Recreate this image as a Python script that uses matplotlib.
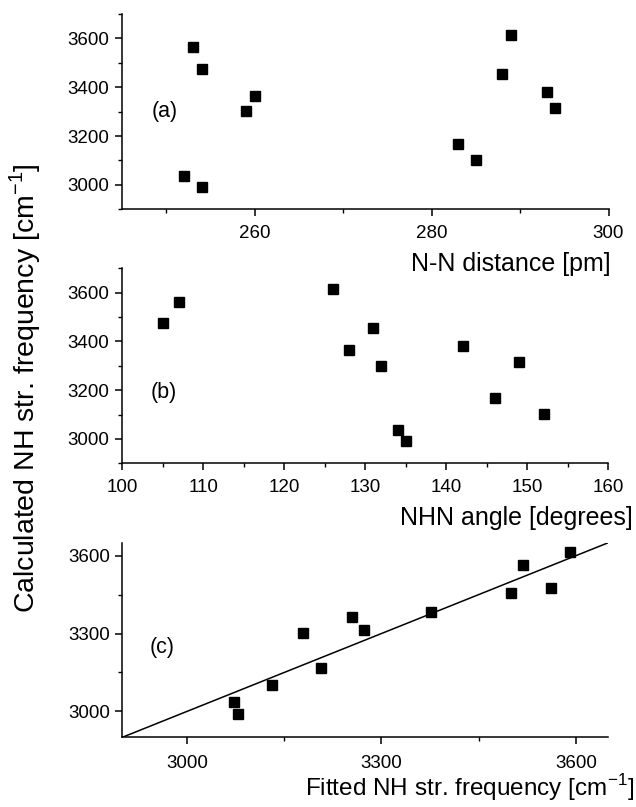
import matplotlib
matplotlib.use("Agg")
import matplotlib.pyplot as plt
from matplotlib.ticker import MultipleLocator

plt.rcParams['font.family'] = ['Liberation Sans', 'DejaVu Sans']

# Data (12 structures)
nn_distance = [252, 253, 254, 254, 259, 260, 283, 285, 288, 289, 293, 294]
calc_freq   = [3037, 3563, 3475, 2990, 3301, 3365, 3169, 3102, 3455, 3616, 3382, 3314]
nhn_angle   = [134, 107, 105, 135, 132, 128, 146, 152, 131, 126, 142, 149]
fitted_freq = [3073, 3518, 3561, 3079, 3179, 3254, 3206, 3131, 3500, 3591, 3377, 3273]
line_x = [2900, 3650]
line_y = [2900, 3650]

W, H = 636, 807
fig = plt.figure(figsize=(W / 100, H / 100), dpi=100)

def make_axes(left, right, top, bottom):
    return fig.add_axes([left / W, 1 - bottom / H, (right - left) / W, (bottom - top) / H])

axA = make_axes(122, 608.5, 14, 209.3)
axB = make_axes(122, 608.5, 268.3, 463.3)
axC = make_axes(122.3, 608.3, 542.7, 737.3)

for ax in (axA, axB, axC):
    for s in ('top', 'right'):
        ax.spines[s].set_visible(False)
    for s in ('left', 'bottom'):
        ax.spines[s].set_linewidth(1.1)
    ax.tick_params(which='major', direction='out', length=5, width=1.1, labelsize=13.5, pad=4)
    ax.tick_params(which='minor', direction='out', length=3, width=1.0)
    ax.tick_params(axis='x', which='major', pad=6)
axC.tick_params(axis='x', which='major', pad=7.5)

ms = 7.5
# (a)
axA.plot(nn_distance, calc_freq, 's', color='black', ms=ms, ls='none')
axA.set_xlim(245, 300)
axA.set_ylim(2900, 3700)
axA.xaxis.set_major_locator(MultipleLocator(20))
axA.xaxis.set_minor_locator(MultipleLocator(10))
axA.yaxis.set_major_locator(MultipleLocator(200))
axA.yaxis.set_minor_locator(MultipleLocator(100))
axA.text(249.8, 3300, '(a)', fontsize=15.5, ha='center', va='center')

# (b)
axB.plot(nhn_angle, calc_freq, 's', color='black', ms=ms, ls='none')
axB.set_xlim(100, 160)
axB.set_ylim(2900, 3700)
axB.xaxis.set_major_locator(MultipleLocator(10))
axB.xaxis.set_minor_locator(MultipleLocator(5))
axB.yaxis.set_major_locator(MultipleLocator(200))
axB.yaxis.set_minor_locator(MultipleLocator(100))
axB.text(105.2, 3190, '(b)', fontsize=15.5, ha='center', va='center')

# (c)
axC.plot(line_x, line_y, '-', color='black', lw=1.1)
axC.plot(fitted_freq, calc_freq, 's', color='black', ms=ms, ls='none')
axC.set_xlim(2900, 3650)
axC.set_ylim(2900, 3650)
axC.xaxis.set_major_locator(MultipleLocator(300))
axC.xaxis.set_minor_locator(MultipleLocator(150))
axC.yaxis.set_major_locator(MultipleLocator(300))
axC.yaxis.set_minor_locator(MultipleLocator(150))
axC.text(2961, 3247, '(c)', fontsize=15.5, ha='center', va='center')

# axis labels
fig.text(611 / W, 1 - 264 / H, 'N-N distance [pm]', fontsize=18, ha='right', va='center')
fig.text(633 / W, 1 - 518 / H, 'NHN angle [degrees]', fontsize=18, ha='right', va='center')
fig.text(634 / W, 4 / H, r'Fitted NH str. frequency [cm$^{\mathregular{-1}}$]', fontsize=17.5,
         ha='right', va='bottom')
fig.text(25 / W, 1 - 388 / H, r'Calculated NH str. frequency [cm$^{\mathregular{-1}}$]', fontsize=20.5,
         ha='center', va='center', rotation=90)

fig.savefig('out.png', dpi=100)
